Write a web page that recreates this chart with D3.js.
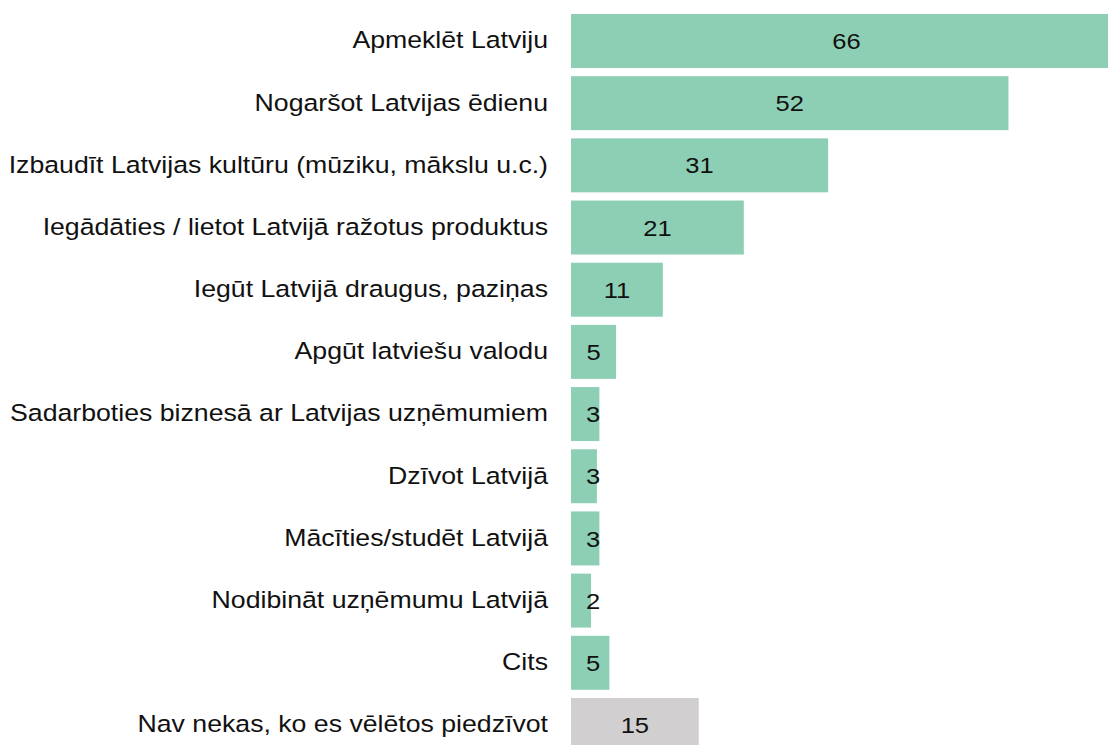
<!DOCTYPE html>
<html><head><meta charset="utf-8">
<script src="https://cdn.jsdelivr.net/npm/d3@7"></script>
<style>html,body{margin:0;padding:0;background:#fff;overflow:hidden}</style>
</head><body>
<svg id="c" width="1108" height="745"></svg>
<script>
const categories = [
  "Apmeklēt Latviju",
  "Nogaršot Latvijas ēdienu",
  "Izbaudīt Latvijas kultūru (mūziku, mākslu u.c.)",
  "Iegādāties / lietot Latvijā ražotus produktus",
  "Iegūt Latvijā draugus, paziņas",
  "Apgūt latviešu valodu",
  "Sadarboties biznesā ar Latvijas uzņēmumiem",
  "Dzīvot Latvijā",
  "Mācīties/studēt Latvijā",
  "Nodibināt uzņēmumu Latvijā",
  "Cits",
  "Nav nekas, ko es vēlētos piedzīvot"
];
const values = [66.0, 52.4, 30.8, 20.7, 11.0, 5.4, 3.4, 3.1, 3.4, 2.4, 4.6, 15.3];
const labels = ["66","52","31","21","11","5","3","3","3","2","5","15"];
const groups = ["main","main","main","main","main","main","main","main","main","main","main","none"];

const colors = {main: "#8dcfb4", none: "#d1cfd0"};
const svg = d3.select("#c");
const marginLeft = 571, marginTop = 14, step = 62.18, padIn = 0.132, sx = 1.135;

const x = d3.scaleLinear().domain([0, 66]).range([0, 551]);
const y = d3.scaleBand().domain(categories)
  .range([marginTop, marginTop + step * (categories.length - padIn)])
  .paddingInner(padIn).paddingOuter(0).align(0);

const g = svg.append("g").attr("transform", `translate(${marginLeft},0)`);
const data = categories.map((c, i) => ({c, v: values[i], l: labels[i], g: groups[i]}));

g.selectAll("rect").data(data).join("rect")
  .attr("x", x(0)).attr("y", d => y(d.c))
  .attr("width", d => x(d.v)).attr("height", y.bandwidth())
  .attr("fill", d => colors[d.g]);

g.selectAll("text.v").data(data).join("text").attr("class","v")
  .attr("transform", d => `translate(${Math.max(x(d.v) / 2, 22)},${y(d.c) + y.bandwidth() / 2}) scale(${sx},1)`)
  .attr("dy", "0.36em")
  .attr("text-anchor", "middle")
  .style("font-family", "Liberation Sans, Arial, sans-serif")
  .style("font-size", "22.5px").attr("fill", "#111")
  .text(d => d.l);

svg.append("g").selectAll("text").data(data).join("text")
  .attr("transform", d => `translate(${marginLeft - 23},${y(d.c) + y.bandwidth() / 2}) scale(${sx},1)`)
  .attr("dy", "0.315em")
  .attr("text-anchor", "end")
  .style("font-family", "Liberation Sans, Arial, sans-serif")
  .style("font-size", "23.5px")
  .attr("fill", "#111")
  .text(d => d.c);
</script>
</body></html>
